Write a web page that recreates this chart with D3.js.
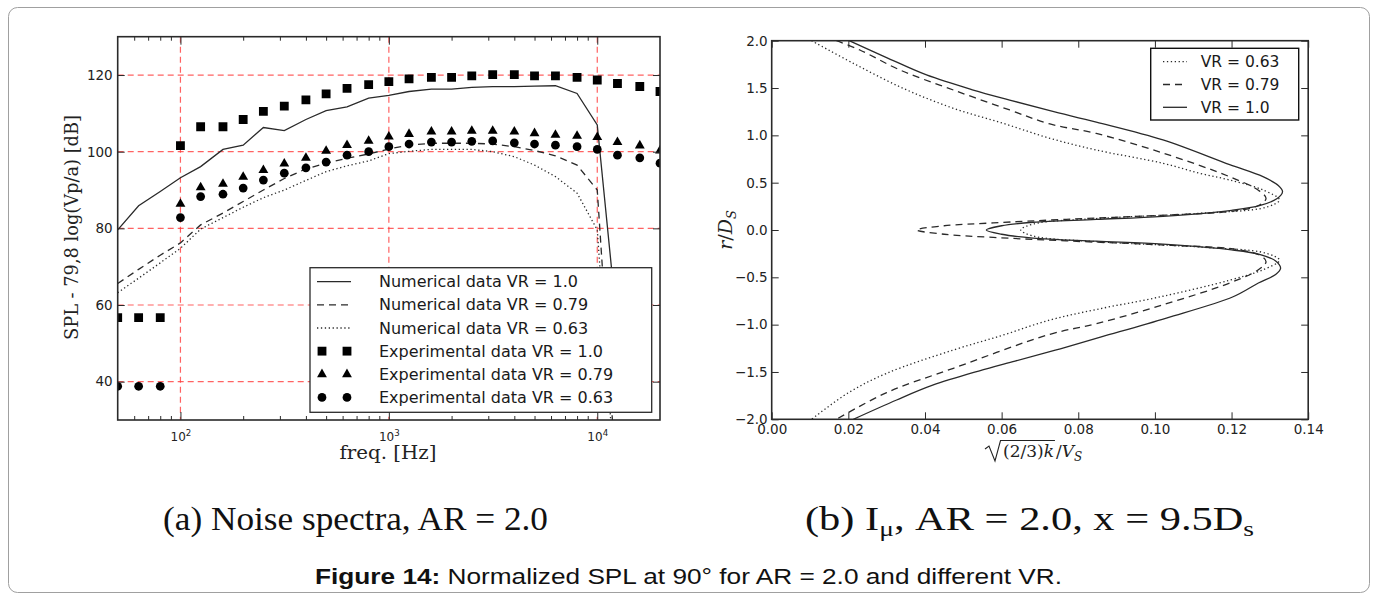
<!DOCTYPE html>
<html><head><meta charset="utf-8">
<script src="https://cdn.jsdelivr.net/npm/d3@7"></script>
<style>
body{margin:0;background:#fff;}
svg{display:block;}
</style></head><body>
<script>
// ---------------- DATA ----------------
// (a) Noise spectra: 1/3-octave band centre frequencies [Hz]
const freqs = [50,63,80,100,125,160,200,250,315,400,500,630,800,1000,1250,1600,2000,2500,3150,4000,5000,6300,8000,10000,12500,16000,20000];
// Numerical data (lines)
const numVR10  = [79.6,85.9,89.6,93.2,96.1,100.6,101.7,106.3,105.5,108.4,110.7,111.7,114.0,114.7,115.7,116.3,116.3,116.8,117.0,117.0,117.1,117.2,115.2,107.0,54,null,null];
const numVR079 = [65.6,69.3,73.0,76.2,80.9,84.0,87.0,90.0,93.0,95.5,97.0,98.3,99.4,100.7,101.7,102.2,102.2,102.2,102.0,101.3,100.3,98.9,96.5,90.0,10,null,null];
const numVR063 = [63.2,67.0,71.0,74.8,79.8,82.8,85.5,88.0,90.0,92.5,94.8,96.3,97.6,99.5,100.1,100.6,100.6,100.6,100.0,98.7,96.5,93.5,89.2,79.6,5,null,null];
// Experimental data (markers)
const expVR10  = [56.7,56.7,56.7,101.6,106.5,106.5,108.4,110.5,111.9,113.5,115.1,116.5,117.5,118.3,119.0,119.4,119.4,119.8,120.1,120.1,119.8,119.8,119.4,118.7,117.8,117.0,115.7];
const expVR079 = [null,null,null,86.4,90.7,91.6,93.4,95.2,96.9,98.4,100.2,101.7,102.8,103.9,104.6,105.2,105.2,105.4,105.4,105.2,104.8,104.4,104.1,103.8,102.5,101.6,100.3];
const expVR063 = [38.8,38.8,38.8,82.8,88.3,88.9,90.5,92.6,94.4,95.8,97.3,99.1,100.0,101.3,102.0,102.5,102.5,102.7,102.8,102.3,102.0,101.7,101.3,100.6,99.1,98.4,97.0];
const splTicks = [40,60,80,100,120];
const freqDecades = [100,1000,10000];
const freqMinor = [60,70,80,90,200,300,400,500,600,700,800,900,2000,3000,4000,5000,6000,7000,8000,9000];
const legendA = ["Numerical data VR = 1.0","Numerical data VR = 0.79","Numerical data VR = 0.63",
                 "Experimental data VR = 1.0","Experimental data VR = 0.79","Experimental data VR = 0.63"];

// (b) I_mu profiles: turbulence intensity (x) vs r/D_S (y)
const vVR063 = [0.0104,0.0213,0.0343,0.0474,0.0604,0.0726,0.0847,0.1021,0.1117,0.1195,0.1282,0.1325,0.1290,0.1117,0.0856,0.0682,0.0650,
                0.0682,0.0856,0.1117,0.1290,0.1325,0.1282,0.1195,0.1021,0.0847,0.0726,0.0604,0.0474,0.0300,0.0200,0.0104];
const rVR063 = [2.0,1.761,1.497,1.286,1.127,0.969,0.845,0.705,0.599,0.528,0.423,0.317,0.240,0.176,0.123,0.063,0.0,
                -0.063,-0.125,-0.180,-0.245,-0.320,-0.420,-0.530,-0.700,-0.840,-0.951,-1.110,-1.268,-1.514,-1.720,-2.0];
const vVR079 = [0.0169,0.0230,0.0335,0.0474,0.0621,0.0726,0.0847,0.1021,0.1195,0.1270,0.1290,0.1273,0.1204,0.1030,0.0769,0.0578,0.0450,0.0378,
                0.0450,0.0578,0.0769,0.1030,0.1204,0.1273,0.1290,0.1270,0.1195,0.1021,0.0847,0.0726,0.0474,0.0300,0.0169];
const rVR079 = [2.0,1.902,1.690,1.479,1.268,1.120,1.020,0.813,0.563,0.420,0.335,0.264,0.200,0.158,0.113,0.075,0.045,0.0,
                -0.045,-0.078,-0.115,-0.160,-0.200,-0.265,-0.335,-0.420,-0.560,-0.790,-0.990,-1.102,-1.461,-1.718,-2.0];
const vVR10 = [0.0202,0.0304,0.0404,0.0526,0.0621,0.0726,0.0847,0.1021,0.1195,0.1282,0.1322,0.1333,0.1318,0.1275,0.1200,0.1021,0.0847,0.0682,0.0600,0.0560,
               0.0600,0.0682,0.0847,0.1021,0.1200,0.1275,0.1316,0.1328,0.1315,0.1270,0.1204,0.1030,0.0860,0.0740,0.0635,0.0540,0.0420,0.0326,0.0213];
const rVR10 = [2.0,1.814,1.638,1.479,1.373,1.261,1.140,0.951,0.690,0.563,0.470,0.405,0.330,0.260,0.208,0.145,0.112,0.082,0.045,0.0,
               -0.045,-0.085,-0.118,-0.150,-0.210,-0.260,-0.330,-0.405,-0.470,-0.560,-0.705,-0.930,-1.130,-1.270,-1.385,-1.490,-1.640,-1.796,-2.0];
const rTicks = [-2.0,-1.5,-1.0,-0.5,0.0,0.5,1.0,1.5,2.0];
const vTicks = [0.00,0.02,0.04,0.06,0.08,0.10,0.12,0.14];
const legendB = ["VR = 0.63","VR = 0.79","VR = 1.0"];

// ---------------- DRAWING ----------------
const svg = d3.select("body").append("svg").attr("width",1378).attr("height",600);
const defs = svg.append("defs");
const ink = "#2a2a2a";
const sans = "DejaVu Sans";
const serif = "DejaVu Serif";

svg.append("rect").attr("x",8.5).attr("y",7.5).attr("width",1361).attr("height",585)
  .attr("rx",9).attr("fill","none").attr("stroke","#a0a0a0").attr("stroke-width",1);

// ========== (a) ==========
const xA = d3.scaleLog().domain([50,20000]).range([117.7,660]);
const yA = d3.scaleLinear().domain([30,130]).range([420,36.7]);
const [ax0,ax1] = xA.range(), [ay1,ay0] = yA.range();
defs.append("clipPath").attr("id","clipA").append("rect")
  .attr("x",ax0).attr("y",ay0).attr("width",ax1-ax0).attr("height",ay1-ay0);
const gA = svg.append("g");

// grid
const grid = gA.append("g").attr("stroke","#ff3b3b").attr("stroke-opacity",0.8)
  .attr("stroke-width",1.2).attr("stroke-dasharray","6,4");
grid.selectAll(".gy").data(splTicks).join("line").attr("class","gy")
  .attr("x1",ax0).attr("x2",ax1).attr("y1",d=>yA(d)).attr("y2",d=>yA(d));
grid.selectAll(".gx").data(freqDecades).join("line").attr("class","gx")
  .attr("y1",ay0).attr("y2",ay1).attr("x1",d=>xA(d)).attr("x2",d=>xA(d));

// lines
const plotA = gA.append("g").attr("clip-path","url(#clipA)");
const lineA = d3.line().defined(d=>d.v!=null).x(d=>xA(d.f)).y(d=>yA(d.v));
const lineSeriesA = [
  {vals:numVR10, dash:null},
  {vals:numVR079, dash:"7,5"},
  {vals:numVR063, dash:"1.3,2.6"}
];
lineSeriesA.forEach(s=>{
  plotA.append("path").datum(freqs.map((f,i)=>({f,v:s.vals[i]})))
    .attr("d",lineA).attr("fill","none").attr("stroke",ink).attr("stroke-width",1.3)
    .attr("stroke-dasharray",s.dash);
});
// markers
const markerSeriesA = [
  {vals:expVR10, sym:d3.symbolSquare, size:78},
  {vals:expVR079, sym:d3.symbolTriangle, size:42},
  {vals:expVR063, sym:d3.symbolCircle, size:60}
];
markerSeriesA.forEach(s=>{
  plotA.append("g").selectAll("path")
    .data(freqs.map((f,i)=>({f,v:s.vals[i]})).filter(d=>d.v!=null))
    .join("path").attr("d",d3.symbol(s.sym,s.size))
    .attr("transform",d=>`translate(${xA(d.f)},${yA(d.v)})`).attr("fill","#000");
});

// axes
function styleAxis(g){ g.select(".domain").remove(); g.selectAll("line").attr("stroke",ink).attr("stroke-width",1);
  g.selectAll("text").attr("fill","#222").attr("font-family",sans).attr("font-size",13.5); }
gA.append("g").attr("transform",`translate(${ax0},0)`)
  .call(d3.axisLeft(yA).tickValues(splTicks).tickSize(-7).tickPadding(5)).call(styleAxis);
gA.append("g").attr("transform",`translate(${ax1},0)`)
  .call(d3.axisRight(yA).tickValues(splTicks).tickSize(-7).tickFormat("")).call(styleAxis);
const bx = gA.append("g").attr("transform",`translate(0,${ay1})`)
  .call(d3.axisBottom(xA).tickValues(freqDecades).tickSize(-8).tickPadding(12)).call(styleAxis);
bx.selectAll(".tick text").each(function(d){
  const t=d3.select(this); t.text(null).attr("dy","0.71em").attr("font-size",12);
  t.append("tspan").text("10");
  t.append("tspan").attr("dy","-0.5em").attr("font-size","0.72em").text(Math.round(Math.log10(d)));
});
gA.append("g").attr("transform",`translate(0,${ay1})`)
  .call(d3.axisBottom(xA).tickValues(freqMinor).tickSize(-4).tickFormat("")).call(styleAxis);
gA.append("g").attr("transform",`translate(0,${ay0})`)
  .call(d3.axisTop(xA).tickValues(freqDecades).tickSize(-8).tickFormat("")).call(styleAxis);
gA.append("g").attr("transform",`translate(0,${ay0})`)
  .call(d3.axisTop(xA).tickValues(freqMinor).tickSize(-4).tickFormat("")).call(styleAxis);
gA.append("rect").attr("x",ax0).attr("y",ay0).attr("width",ax1-ax0).attr("height",ay1-ay0)
  .attr("fill","none").attr("stroke",ink).attr("stroke-width",1.6);

// labels
gA.append("text").attr("x",388).attr("y",459).attr("text-anchor","middle")
  .attr("font-family",serif).attr("font-size",18).attr("fill","#222")
  .attr("textLength",97).attr("lengthAdjust","spacingAndGlyphs").text("freq. [Hz]");
gA.append("text").attr("transform",`translate(77.5,227.5) rotate(-90)`).attr("text-anchor","middle")
  .attr("font-family",serif).attr("font-size",18).attr("fill","#222")
  .attr("textLength",225).attr("lengthAdjust","spacingAndGlyphs").text("SPL - 79,8 log(Vp/a) [dB]");

// legend (a)
const lgA = gA.append("g");
lgA.append("rect").attr("x",310).attr("y",267.7).attr("width",341.7).attr("height",144.6)
  .attr("fill","#fff").attr("stroke",ink).attr("stroke-width",1.3);
const rowY = i => 281.7 + i*23.15;
lineSeriesA.forEach((s,i)=>{
  lgA.append("line").attr("x1",317).attr("x2",351).attr("y1",rowY(i)).attr("y2",rowY(i))
    .attr("stroke",ink).attr("stroke-width",1.3).attr("stroke-dasharray",s.dash);
});
markerSeriesA.forEach((s,i)=>{
  [322,347].forEach(x=>{
    lgA.append("path").attr("d",d3.symbol(s.sym,s.size)).attr("fill","#000")
      .attr("transform",`translate(${x},${rowY(i+3)})`);
  });
});
lgA.selectAll("text.lg").data(legendA).join("text").attr("class","lg")
  .attr("x",379).attr("y",(d,i)=>rowY(i)+5.6).attr("font-family",sans).attr("font-size",16)
  .attr("fill","#1a1a1a").text(d=>d);

// ========== (b) ==========
const xB = d3.scaleLinear().domain([0,0.14]).range([771.7,1308.2]);
const yB = d3.scaleLinear().domain([-2,2]).range([419.3,40.7]);
const [bx0,bx1] = xB.range(), [by1,by0] = yB.range();
defs.append("clipPath").attr("id","clipB").append("rect")
  .attr("x",bx0).attr("y",by0).attr("width",bx1-bx0).attr("height",by1-by0);
const gB = svg.append("g");
const plotB = gB.append("g").attr("clip-path","url(#clipB)");
const lineB = d3.line().x(d=>xB(d[0])).y(d=>yB(d[1])).curve(d3.curveCatmullRom.alpha(0.5));
const seriesB = [
  {v:vVR063, r:rVR063, dash:"1.3,2.6"},
  {v:vVR079, r:rVR079, dash:"7,5"},
  {v:vVR10,  r:rVR10,  dash:null}
];
seriesB.forEach(s=>{
  plotB.append("path").datum(s.v.map((v,i)=>[v,s.r[i]])).attr("d",lineB)
    .attr("fill","none").attr("stroke",ink).attr("stroke-width",1.3).attr("stroke-dasharray",s.dash);
});
const fmt2 = d=>d3.format(".2f")(d);
const fmt1 = d=>(d<0?"\u2212":"")+d3.format(".1f")(Math.abs(d));
gB.append("g").attr("transform",`translate(${bx0},0)`)
  .call(d3.axisLeft(yB).tickValues(rTicks).tickSize(-7).tickPadding(4).tickFormat(fmt1)).call(styleAxis);
gB.append("g").attr("transform",`translate(${bx1},0)`)
  .call(d3.axisRight(yB).tickValues(rTicks).tickSize(-7).tickFormat("")).call(styleAxis);
gB.append("g").attr("transform",`translate(0,${by1})`)
  .call(d3.axisBottom(xB).tickValues(vTicks).tickSize(-7).tickPadding(5).tickFormat(fmt2)).call(styleAxis);
gB.append("g").attr("transform",`translate(0,${by0})`)
  .call(d3.axisTop(xB).tickValues(vTicks).tickSize(-7).tickFormat("")).call(styleAxis);
gB.append("rect").attr("x",bx0).attr("y",by0).attr("width",bx1-bx0).attr("height",by1-by0)
  .attr("fill","none").attr("stroke",ink).attr("stroke-width",1.6);

// x label: sqrt((2/3)k)/V_S
const xl = gB.append("g").attr("fill","#222").attr("font-family",serif).attr("font-size",17);
const t1 = xl.append("text").attr("x",1003).attr("y",457);
t1.append("tspan").text("(2/3)");
t1.append("tspan").attr("font-style","italic").text("k");
const w1 = t1.node().getComputedTextLength();
xl.append("path").attr("d",`M985,449 L989,446 L995,461 L1000.5,440.5 L${1003+w1+1},440.5`)
  .attr("fill","none").attr("stroke","#222").attr("stroke-width",1.1);
const t2 = xl.append("text").attr("x",1003+w1+2).attr("y",457);
t2.append("tspan").text("/");
t2.append("tspan").attr("font-style","italic").text("V");
t2.append("tspan").attr("font-style","italic").attr("font-size",12).attr("dy",4).text("S");
// y label r/D_S
const yl = gB.append("text").attr("transform",`translate(732,230) rotate(-90)`).attr("text-anchor","middle")
  .attr("fill","#222").attr("font-family",serif).attr("font-size",19);
yl.append("tspan").attr("font-style","italic").text("r");
yl.append("tspan").text("/");
yl.append("tspan").attr("font-style","italic").text("D");
yl.append("tspan").attr("font-style","italic").attr("font-size",13).attr("dy",4).text("S");

// legend (b)
const lgB = gB.append("g");
lgB.append("rect").attr("x",1150.7).attr("y",48.3).attr("width",148).attr("height",71.7)
  .attr("fill","#fff").attr("stroke","#111").attr("stroke-width",1.4);
seriesB.forEach((s,i)=>{
  const y = 61.7 + i*22.8;
  lgB.append("line").attr("x1",1163).attr("x2",1187).attr("y1",y).attr("y2",y)
    .attr("stroke",ink).attr("stroke-width",1.3).attr("stroke-dasharray",s.dash);
  lgB.append("text").attr("x",1200.7).attr("y",y+5.5).attr("font-family",sans).attr("font-size",15.5)
    .attr("fill","#1a1a1a").text(legendB[i]);
});

// ========== captions ==========
const capSerif = "Liberation Serif";
svg.append("text").attr("x",355.5).attr("y",530).attr("text-anchor","middle")
  .attr("font-family",capSerif).attr("font-size",34).attr("fill","#111")
  .attr("textLength",385).attr("lengthAdjust","spacingAndGlyphs").text("(a) Noise spectra, AR = 2.0");
const cb = svg.append("text").attr("x",1029.5).attr("y",530).attr("text-anchor","middle")
  .attr("font-family",capSerif).attr("font-size",34).attr("fill","#111")
  .attr("textLength",449).attr("lengthAdjust","spacingAndGlyphs");
cb.append("tspan").text("(b) I");
cb.append("tspan").attr("font-size",22).attr("dy",6).text("\u03bc");
cb.append("tspan").attr("dy",-6).text(", AR = 2.0, x = 9.5D");
cb.append("tspan").attr("font-size",22).attr("dy",6).text("s");
const cf = svg.append("text").attr("x",688.5).attr("y",584).attr("text-anchor","middle")
  .attr("font-family","Liberation Sans").attr("font-size",22).attr("fill","#111")
  .attr("textLength",747).attr("lengthAdjust","spacingAndGlyphs");
cf.append("tspan").attr("font-weight","bold").text("Figure 14:");
cf.append("tspan").text(" Normalized SPL at 90\u00b0 for AR = 2.0 and different VR.");
</script>
</body></html>
